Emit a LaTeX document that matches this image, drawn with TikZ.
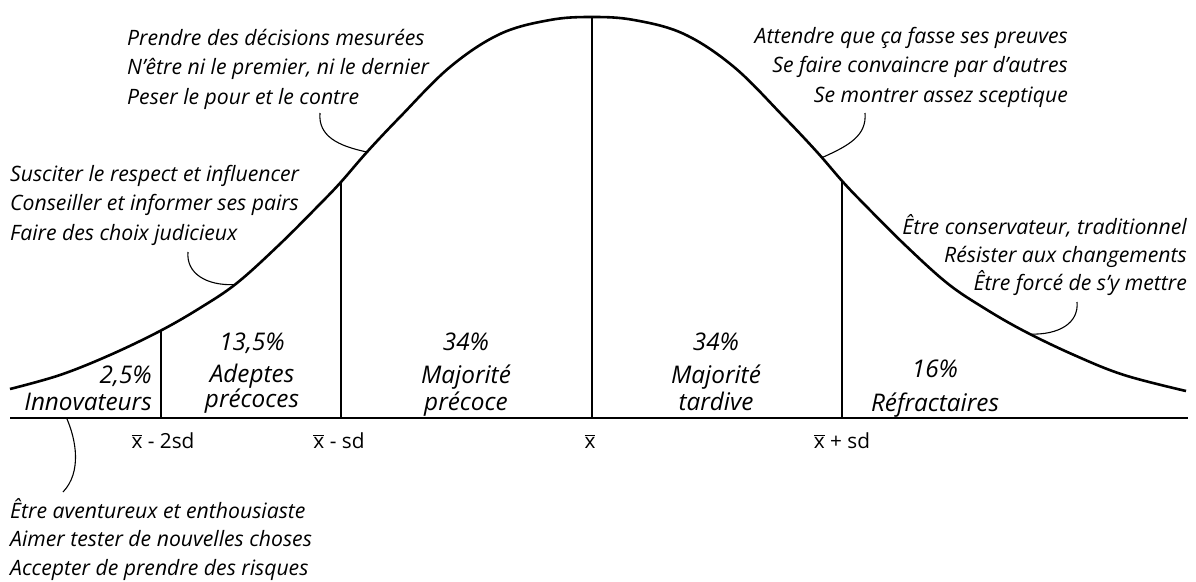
\documentclass[tikz,border=0pt]{standalone}
\usepackage{fontspec}
\setmainfont{Open Sans}
\usetikzlibrary{intersections}
\newcommand\xb{\mbox{$\overline{\hbox{x}}$}}
\tikzset{
  bell/.style={line width=2.6pt, line join=round},
  axisline/.style={line width=2.4pt},
  tickline/.style={line width=2.4pt},
  callout/.style={line width=1.1pt},
  note/.style={inner sep=0pt, font=\itshape\fontsize{21.2}{29.5}\selectfont},
  grp/.style={inner sep=0pt, anchor=base, font=\itshape\fontsize{24.3}{25}\selectfont},
  axlab/.style={inner sep=0pt, anchor=base, font=\fontsize{20.8}{25}\selectfont},
}
\begin{document}
\begin{tikzpicture}[x=1pt,y=-1pt]
\useasboundingbox (0,0) rectangle (1196,581);
% bell curve
\draw[bell, name path=bell] plot[smooth, tension=0.6] coordinates {
 (10,389) (60,375) (110,355) (160,331) (200,308) (237,283) (280,244) (320,204)
 (341,182) (367,152) (400,117) (450,67) (500,34) (550,20) (592,17)
 (634,20) (684,34) (734,67) (784,117) (817,152) (843,182) (864,204) (904,244)
 (947,283) (984,308) (1024,331) (1074,355) (1124,375) (1186,391)};
% axis
\coordinate (axL) at (10,418);
\coordinate (axR) at (1188,418);
\draw[axisline] (axL) -- (axR);
% cuts
\path[name path=c1] (161,0) -- (161,581);
\path[name path=c2] (341,0) -- (341,581);
\path[name path=c3] (592,0) -- (592,581);
\path[name path=c4] (842,0) -- (842,581);
\path[name path=k1] (367,0) -- (367,581);
\path[name path=k2] (235,0) -- (235,581);
\path[name path=k3] (822,0) -- (822,581);
\path[name path=k4] (1030,0) -- (1030,581);
\path[name intersections={of=bell and c1, by={t1}}];
\path[name intersections={of=bell and c2, by={t2}}];
\path[name intersections={of=bell and c3, by={t3}}];
\path[name intersections={of=bell and c4, by={t4}}];
\path[name intersections={of=bell and k1, by={aE}}];
\path[name intersections={of=bell and k2, by={bE}}];
\path[name intersections={of=bell and k3, by={cE}}];
\path[name intersections={of=bell and k4, by={dE}}];
\draw[tickline] (t1) -- (t1 |- axL);
\draw[tickline] (t2) -- (t2 |- axL);
\draw[tickline] (t3) -- (t3 |- axL);
\draw[tickline] (t4) -- (t4 |- axL);
% callout texts
\node[note, anchor=base west] (nA) at (127,45) {\begin{tabular}[t]{@{}l@{}}Prendre des décisions mesurées\\N’être ni le premier, ni le dernier\\Peser le pour et le contre\end{tabular}};
\node[note, anchor=base west] (nB) at (10,181) {\begin{tabular}[t]{@{}l@{}}Susciter le respect et influencer\\Conseiller et informer ses pairs\\Faire des choix judicieux\end{tabular}};
\node[note, anchor=base east] (nC) at (1068,43) {\begin{tabular}[t]{@{}r@{}}Attendre que ça fasse ses preuves\\Se faire convaincre par d’autres\\Se montrer assez sceptique\end{tabular}};
\node[note, anchor=base east] (nD) at (1187,234) {\begin{tabular}[t]{@{}r@{}}Être conservateur, traditionnel\\[-1.5pt]Résister aux changements\\[-1.5pt]Être forcé de s’y mettre\end{tabular}};
\node[note, anchor=base west] (nE) at (10,518) {\begin{tabular}[t]{@{}l@{}}Être aventureux et enthousiaste\\[-1pt]Aimer tester de nouvelles choses\\[-1pt]Accepter de prendre des risques\end{tabular}};
% callout lines
\coordinate (aS) at (320,113);
\coordinate (bS) at (188,252);
\coordinate (cS) at (865,113);
\coordinate (dS) at (1077,302);
\coordinate (eS) at (67,419);
\coordinate (eE) at (63,492);
\draw[callout] (aS) .. controls (318,136) and (338,146) .. (aE);
\draw[callout] (bS) .. controls (186,273) and (206,286) .. (bE);
\draw[callout] (cS) .. controls (867,136) and (848,146) .. (cE);
\draw[callout] (dS) .. controls (1079,323) and (1059,335) .. (dE);
\draw[callout] (eS) .. controls (76,440) and (82,472) .. (eE);
% group labels
\node[grp, anchor=base east] (gI) at (152,383) {\begin{tabular}[t]{@{}r@{}}2,5\%\\[2pt]Innovateurs\end{tabular}};
\node[grp] (gA) at (252,350) {\begin{tabular}[t]{@{}c@{}}13,5\%\\[7pt]Adeptes\\[-2pt]précoces\end{tabular}};
\node[grp] (gM) at (466,350) {\begin{tabular}[t]{@{}c@{}}34\%\\[7pt]Majorité\\[1pt]précoce\end{tabular}};
\node[grp] (gT) at (716,350) {\begin{tabular}[t]{@{}c@{}}34\%\\[7pt]Majorité\\[1pt]tardive\end{tabular}};
\node[grp] (gR) at (935,377) {\begin{tabular}[t]{@{}c@{}}16\%\\[8pt]Réfractaires\end{tabular}};
% axis labels
\node[axlab] (l1) at (163,448) {\xb{} - 2sd};
\node[axlab] (l2) at (339,448) {\xb{} - sd};
\node[axlab] (l3) at (590,448) {\xb};
\node[axlab] (l4) at (842,448) {\xb{} + sd};
\end{tikzpicture}
\end{document}
